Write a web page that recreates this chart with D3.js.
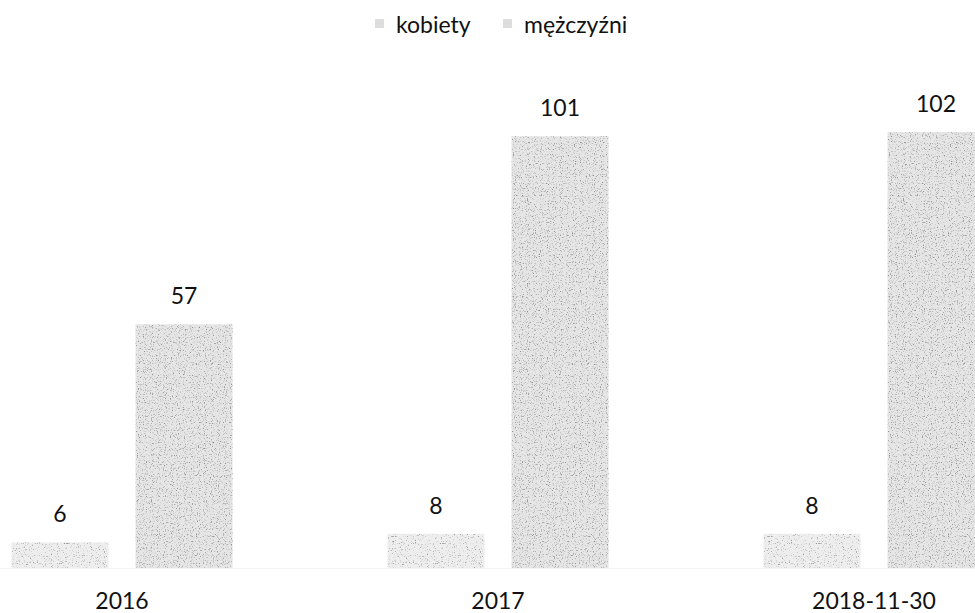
<!DOCTYPE html>
<html>
<head>
<meta charset="utf-8">
<script src="https://cdn.jsdelivr.net/npm/d3@7"></script>
<style>
  html, body { margin: 0; padding: 0; background: #fff; overflow: hidden; }
  svg { display: block; font-family: Lato, "Open Sans", sans-serif; }
</style>
</head>
<body>
<svg id="chart" width="975" height="613"></svg>
<script>
// data
const categories = ['2016', '2017', '2018-11-30'];
const seriesNames = ['kobiety', 'mężczyźni'];
const kobiety = [6, 8, 8];
const mezczyzni = [57, 101, 102];

const width = 975, height = 613;
const svg = d3.select('#chart');

// grainy grey fill, like the scan
const defs = svg.append('defs');
function grain(id, base, cut, seed) {
    const f = defs.append('filter').attr('id', id)
        .attr('x', 0).attr('y', 0).attr('width', 1).attr('height', 1);
    f.append('feFlood').attr('flood-color', base).attr('result', 'base');
    f.append('feTurbulence').attr('type', 'fractalNoise')
        .attr('baseFrequency', 0.85).attr('numOctaves', 2).attr('seed', seed).attr('result', 'noise');
    f.append('feColorMatrix').attr('in', 'noise').attr('type', 'matrix')
        .attr('values', `0 0 0 0 0.3  0 0 0 0 0.3  0 0 0 0 0.3  4 0 0 0 ${-cut}`)
        .attr('result', 'dots');
    f.append('feComposite').attr('in', 'dots').attr('in2', 'base').attr('operator', 'over').attr('result', 'mix');
    f.append('feComposite').attr('in', 'mix').attr('in2', 'SourceAlpha').attr('operator', 'in');
}
grain('grainK', '#eeeeee', 2.3, 4);
grain('grainM', '#e6e6e6', 2.15, 9);
const filters = { 'kobiety': 'url(#grainK)', 'mężczyźni': 'url(#grainM)' };

const x0 = d3.scaleBand().domain(categories).range([-66, 1062]);
const x1 = d3.scaleBand().domain(seriesNames).range([-110.5, 110.5]).paddingInner(0.218);
const y = d3.scaleLinear().domain([0, 102]).range([568, 132]);

const rows = categories.map((c, i) => ({
    cat: c,
    vals: [
        { key: 'kobiety', value: kobiety[i] },
        { key: 'mężczyźni', value: mezczyzni[i] }
    ]
}));

// faint baseline
svg.append('line')
    .attr('x1', 0).attr('x2', width)
    .attr('y1', y(0) + 0.5).attr('y2', y(0) + 0.5)
    .attr('stroke', '#f4f4f4');

const groups = svg.selectAll('g.grp')
    .data(rows)
    .enter().append('g')
    .attr('class', 'grp')
    .attr('transform', d => `translate(${x0(d.cat) + x0.bandwidth() / 2},0)`);

groups.selectAll('rect')
    .data(d => d.vals)
    .enter().append('rect')
    .attr('x', d => x1(d.key))
    .attr('y', d => y(d.value))
    .attr('width', x1.bandwidth())
    .attr('height', d => y(0) - y(d.value))
    .attr('fill', '#000')
    .attr('filter', d => filters[d.key]);

groups.selectAll('text.val')
    .data(d => d.vals)
    .enter().append('text')
    .attr('class', 'val')
    .attr('x', d => x1(d.key) + x1.bandwidth() / 2)
    .attr('y', d => y(d.value) - 20)
    .attr('text-anchor', 'middle')
    .attr('font-size', 23)
    .attr('fill', '#111')
    .text(d => d.value);

// category labels
svg.append('g')
    .attr('transform', 'translate(0,609)')
    .call(d3.axisBottom(x0).tickSize(0).tickPadding(0))
    .call(g => g.select('.domain').remove())
    .call(g => g.selectAll('text')
        .attr('dy', 0)
        .attr('font-family', 'Lato, "Open Sans", sans-serif')
        .attr('font-size', 23)
        .attr('fill', '#111'));

// legend
const legendPos = [375, 503];
const legend = svg.append('g').selectAll('g')
    .data(seriesNames)
    .enter().append('g')
    .attr('transform', (d, i) => `translate(${legendPos[i]},0)`);
legend.append('rect')
    .attr('x', 0).attr('y', 19).attr('width', 9).attr('height', 9)
    .attr('fill', '#ddd');
legend.append('text')
    .attr('x', 21).attr('y', 33)
    .attr('font-size', 23)
    .attr('fill', '#111')
    .text(d => d);
</script>
</body>
</html>
